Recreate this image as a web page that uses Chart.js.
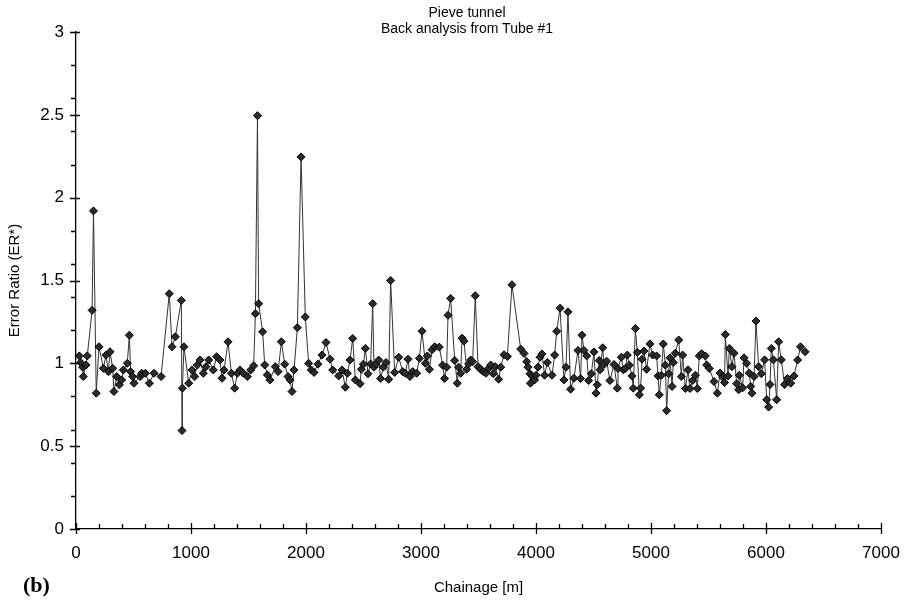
<!DOCTYPE html>
<html>
<head>
<meta charset="utf-8">
<script src="https://cdn.jsdelivr.net/npm/chart.js@4.4.1/dist/chart.umd.min.js"></script>
<style>
  html, body { margin: 0; padding: 0; background: #fff; }
  #wrap { position: relative; width: 916px; height: 601px; }
  #chart { position: absolute; left: 0; top: 0; }
  .title { position: absolute; left: 367px; width: 200px; text-align: center;
           font: 14px "Liberation Sans", Arial, sans-serif; color: #000; white-space: nowrap; }
  #panel { position: absolute; left: 23px; top: 572px; font: bold 22px "Liberation Serif", "Times New Roman", serif; }
</style>
</head>
<body>
<div id="wrap">
  <canvas id="chart" width="916" height="601"></canvas>
  <div class="title" style="top:4px">Pieve tunnel</div>
  <div class="title" style="top:20px">Back analysis from Tube #1</div>
  <div id="panel">(b)</div>
</div>
<script>
// chainage [m]
const chainage = [
  29, 41, 58, 63, 87, 98, 140, 152, 176, 200, 238, 261, 281, 296, 319, 330, 354, 377, 397, 412,
  446, 464, 475, 493, 504, 557, 571, 603, 638, 678, 740,
  811, 835, 864, 916, 922, 925, 939, 980, 1009, 1032, 1055, 1078, 1107, 1130, 1154, 1194, 1223, 1252, 1270,
  1287, 1322, 1351, 1380, 1403, 1426, 1455, 1490, 1519, 1545, 1560, 1578, 1588, 1623, 1641, 1664, 1687, 1733, 1757, 1786,
  1815, 1844, 1861, 1878, 1896, 1925, 1957, 1994, 2023, 2046, 2070, 2104, 2139, 2174, 2209, 2232, 2284, 2313, 2342, 2360,
  2383, 2406, 2429, 2470, 2481, 2499, 2516, 2539, 2562, 2580, 2591, 2609, 2632, 2649, 2672, 2696, 2719, 2736, 2771, 2806,
  2841, 2864, 2887, 2904, 2928, 2962, 2986, 3009, 3038, 3055, 3073, 3096, 3119, 3159, 3188, 3205, 3223, 3235, 3258, 3293,
  3316, 3327, 3345, 3357, 3374, 3397, 3414, 3432, 3449, 3472, 3496, 3519, 3542, 3565, 3588, 3606, 3629, 3646, 3675, 3693,
  3722, 3751, 3791, 3867, 3896, 3919, 3930, 3948, 3952, 3965, 3988, 4000, 4017, 4035, 4052, 4075, 4098, 4139, 4162, 4180,
  4209, 4243, 4261, 4278, 4301, 4330, 4365, 4388, 4400, 4417, 4441, 4458, 4481, 4504, 4522, 4533, 4550, 4557, 4580, 4591,
  4614, 4643, 4678, 4707, 4713, 4742, 4759, 4777, 4794, 4812, 4835, 4846, 4864, 4881, 4899, 4910, 4922, 4939, 4962, 4991,
  5014, 5049, 5061, 5072, 5090, 5107, 5125, 5136, 5153, 5165, 5183, 5194, 5211, 5241, 5264, 5275, 5299, 5322, 5339, 5362,
  5386, 5403, 5420, 5440, 5472, 5484, 5507, 5548, 5577, 5600, 5623, 5640, 5646, 5670, 5681, 5704, 5722, 5745, 5762, 5768,
  5797, 5809, 5832, 5855, 5867, 5878, 5896, 5913, 5936, 5959, 5988, 6006, 6023, 6035, 6046, 6064, 6093, 6110, 6133, 6162,
  6186, 6215, 6244, 6275, 6300, 6340
];
// error ratio ER*
const errorRatio = [
  1.045, 1.005, 0.977, 0.92, 0.99, 1.045, 1.32, 1.92, 0.82, 1.10, 0.97, 1.05, 0.95, 1.07, 0.97, 0.83, 0.92, 0.87, 0.90, 0.96,
  1.00, 1.17, 0.95, 0.92, 0.88, 0.92, 0.94, 0.94, 0.88, 0.94, 0.92,
  1.42, 1.10, 1.16, 1.38, 0.594, 0.85, 1.10, 0.88, 0.96, 0.92, 0.99, 1.02, 0.94, 0.98, 1.02, 0.96, 1.04, 1.02, 0.91,
  0.96, 1.13, 0.94, 0.85, 0.94, 0.96, 0.94, 0.92, 0.96, 0.985, 1.30, 2.495, 1.36, 1.19, 0.99, 0.93, 0.90, 0.98, 0.95, 1.13,
  0.995, 0.92, 0.90, 0.83, 0.96, 1.215, 2.246, 1.28, 1.00, 0.96, 0.945, 0.995, 1.05, 1.126, 1.025, 0.96, 0.924, 0.96, 0.856, 0.94,
  1.02, 1.15, 0.90, 0.877, 0.964, 0.995, 1.09, 0.937, 0.996, 1.36, 0.977, 0.995, 1.02, 0.908, 0.977, 1.005, 0.904, 1.50, 0.945, 1.037,
  0.95, 0.94, 1.025, 0.92, 0.95, 0.94, 1.03, 1.194, 1.00, 1.045, 0.964, 1.082, 1.10, 1.098, 0.989, 0.908, 0.977, 1.29, 1.392, 1.017,
  0.88, 0.977, 0.94, 1.152, 1.134, 0.964, 0.996, 1.02, 1.01, 1.408, 0.98, 0.964, 0.95, 0.94, 0.97, 0.99, 0.937, 0.98, 0.904, 0.977,
  1.052, 1.041, 1.474, 1.086, 1.06, 1.01, 0.977, 0.937, 0.88, 0.924, 0.90, 0.928, 0.977, 1.037, 1.057, 0.928, 1.005, 0.928, 1.05, 1.194,
  1.333, 0.90, 0.977, 1.311, 0.844, 0.91, 1.078, 0.908, 1.17, 1.078, 1.045, 0.896, 0.937, 1.069, 0.82, 0.87, 1.017, 0.961, 1.094, 0.993,
  1.013, 0.896, 0.993, 0.85, 0.969, 1.037, 0.961, 0.969, 1.05, 0.989, 0.924, 0.85, 1.21, 1.066, 0.81, 0.85, 1.025, 1.074, 0.964, 1.117,
  1.05, 1.045, 0.924, 0.81, 0.928, 1.117, 0.989, 0.714, 0.937, 1.033, 0.86, 1.005, 1.061, 1.141, 0.92, 1.05, 0.848, 0.961, 0.848, 0.896,
  0.928, 0.848, 1.045, 1.058, 1.045, 0.99, 0.969, 0.89, 0.82, 0.941, 0.917, 0.884, 1.174, 0.924, 1.09, 0.98, 1.061, 0.877, 0.84, 0.928,
  0.852, 1.033, 1.0, 0.941, 0.86, 0.82, 0.92, 1.255, 0.98, 0.937, 1.021, 0.78, 0.736, 0.872, 1.09, 1.021, 0.78, 1.13, 1.021, 0.872,
  0.908, 0.88, 0.924, 1.02, 1.10, 1.07
];
const xTicks = [0, 1000, 2000, 3000, 4000, 5000, 6000, 7000];
const yTicks = [0, 0.5, 1, 1.5, 2, 2.5, 3];

const points = chainage.map((c, i) => ({ x: c, y: errorRatio[i] }));

// tick marks: majors cross the axis, minors only on one side
const tickMarks = {
  id: 'tickMarks',
  afterDraw(chart) {
    const ctx = chart.ctx;
    const xs = chart.scales.x, ys = chart.scales.y;
    const x0 = xs.left, y0 = ys.bottom;
    ctx.save();
    ctx.strokeStyle = '#000';
    ctx.lineWidth = 1.3;
    ctx.beginPath();
    for (let v = 0; v <= 7000; v += 200) {
      const px = Math.round(xs.getPixelForValue(v)) + 0.5;
      if (v % 1000 === 0) { ctx.moveTo(px, y0 - 6); ctx.lineTo(px, y0 + 5); }
      else { ctx.moveTo(px, y0 - 5); ctx.lineTo(px, y0); }
    }
    for (let k = 0; k <= 30; k++) {
      const v = k / 10;
      const py = Math.round(ys.getPixelForValue(v)) + 0.5;
      if (k % 5 === 0) { ctx.moveTo(x0 - 6, py); ctx.lineTo(x0 + 4, py); }
      else if (k % 2 === 0) { ctx.moveTo(x0 - 5, py); ctx.lineTo(x0, py); }
    }
    ctx.stroke();
    ctx.restore();
  }
};

new Chart(document.getElementById('chart'), {
  type: 'scatter',
  data: {
    datasets: [{
      data: points,
      showLine: true,
      borderColor: '#333',
      borderWidth: 1,
      pointStyle: 'rectRot',
      pointRadius: 4,
      pointBackgroundColor: '#2b2b2b',
      pointBorderColor: '#000',
      pointBorderWidth: 1
    }]
  },
  options: {
    responsive: false,
    animation: false,
    layout: { padding: { top: 32, right: 35, left: 0, bottom: 0 } },
    plugins: { legend: { display: false }, tooltip: { enabled: false }, title: { display: false } },
    scales: {
      x: {
        type: 'linear', min: 0, max: 7000,
        afterBuildTicks: s => { s.ticks = xTicks.map(v => ({ value: v })); },
        afterFit: s => { s.height = 72; },
        grid: { display: false, drawTicks: false },
        border: { display: true, color: '#000', width: 1.3 },
        ticks: { color: '#000', padding: 14, maxRotation: 0, callback: v => String(v),
                 font: { family: '"Liberation Sans", Arial', size: 17 } },
        title: { display: true, text: 'Chainage [m]', color: '#000', padding: { top: 0, bottom: 4 },
                 font: { family: '"Liberation Sans", Arial', size: 15 } }
      },
      y: {
        type: 'linear', min: 0, max: 3,
        afterBuildTicks: s => { s.ticks = yTicks.map(v => ({ value: v })); },
        afterFit: s => { s.width = 76; },
        grid: { display: false, drawTicks: false },
        border: { display: true, color: '#000', width: 1.3 },
        ticks: { color: '#000', padding: 12, callback: v => String(v),
                 font: { family: '"Liberation Sans", Arial', size: 17 } },
        title: { display: true, text: 'Error Ratio (ER*)', color: '#000', padding: { top: 6, bottom: 0 },
                 font: { family: '"Liberation Sans", Arial', size: 15 } }
      }
    }
  },
  plugins: [tickMarks]
});
</script>
</body>
</html>
